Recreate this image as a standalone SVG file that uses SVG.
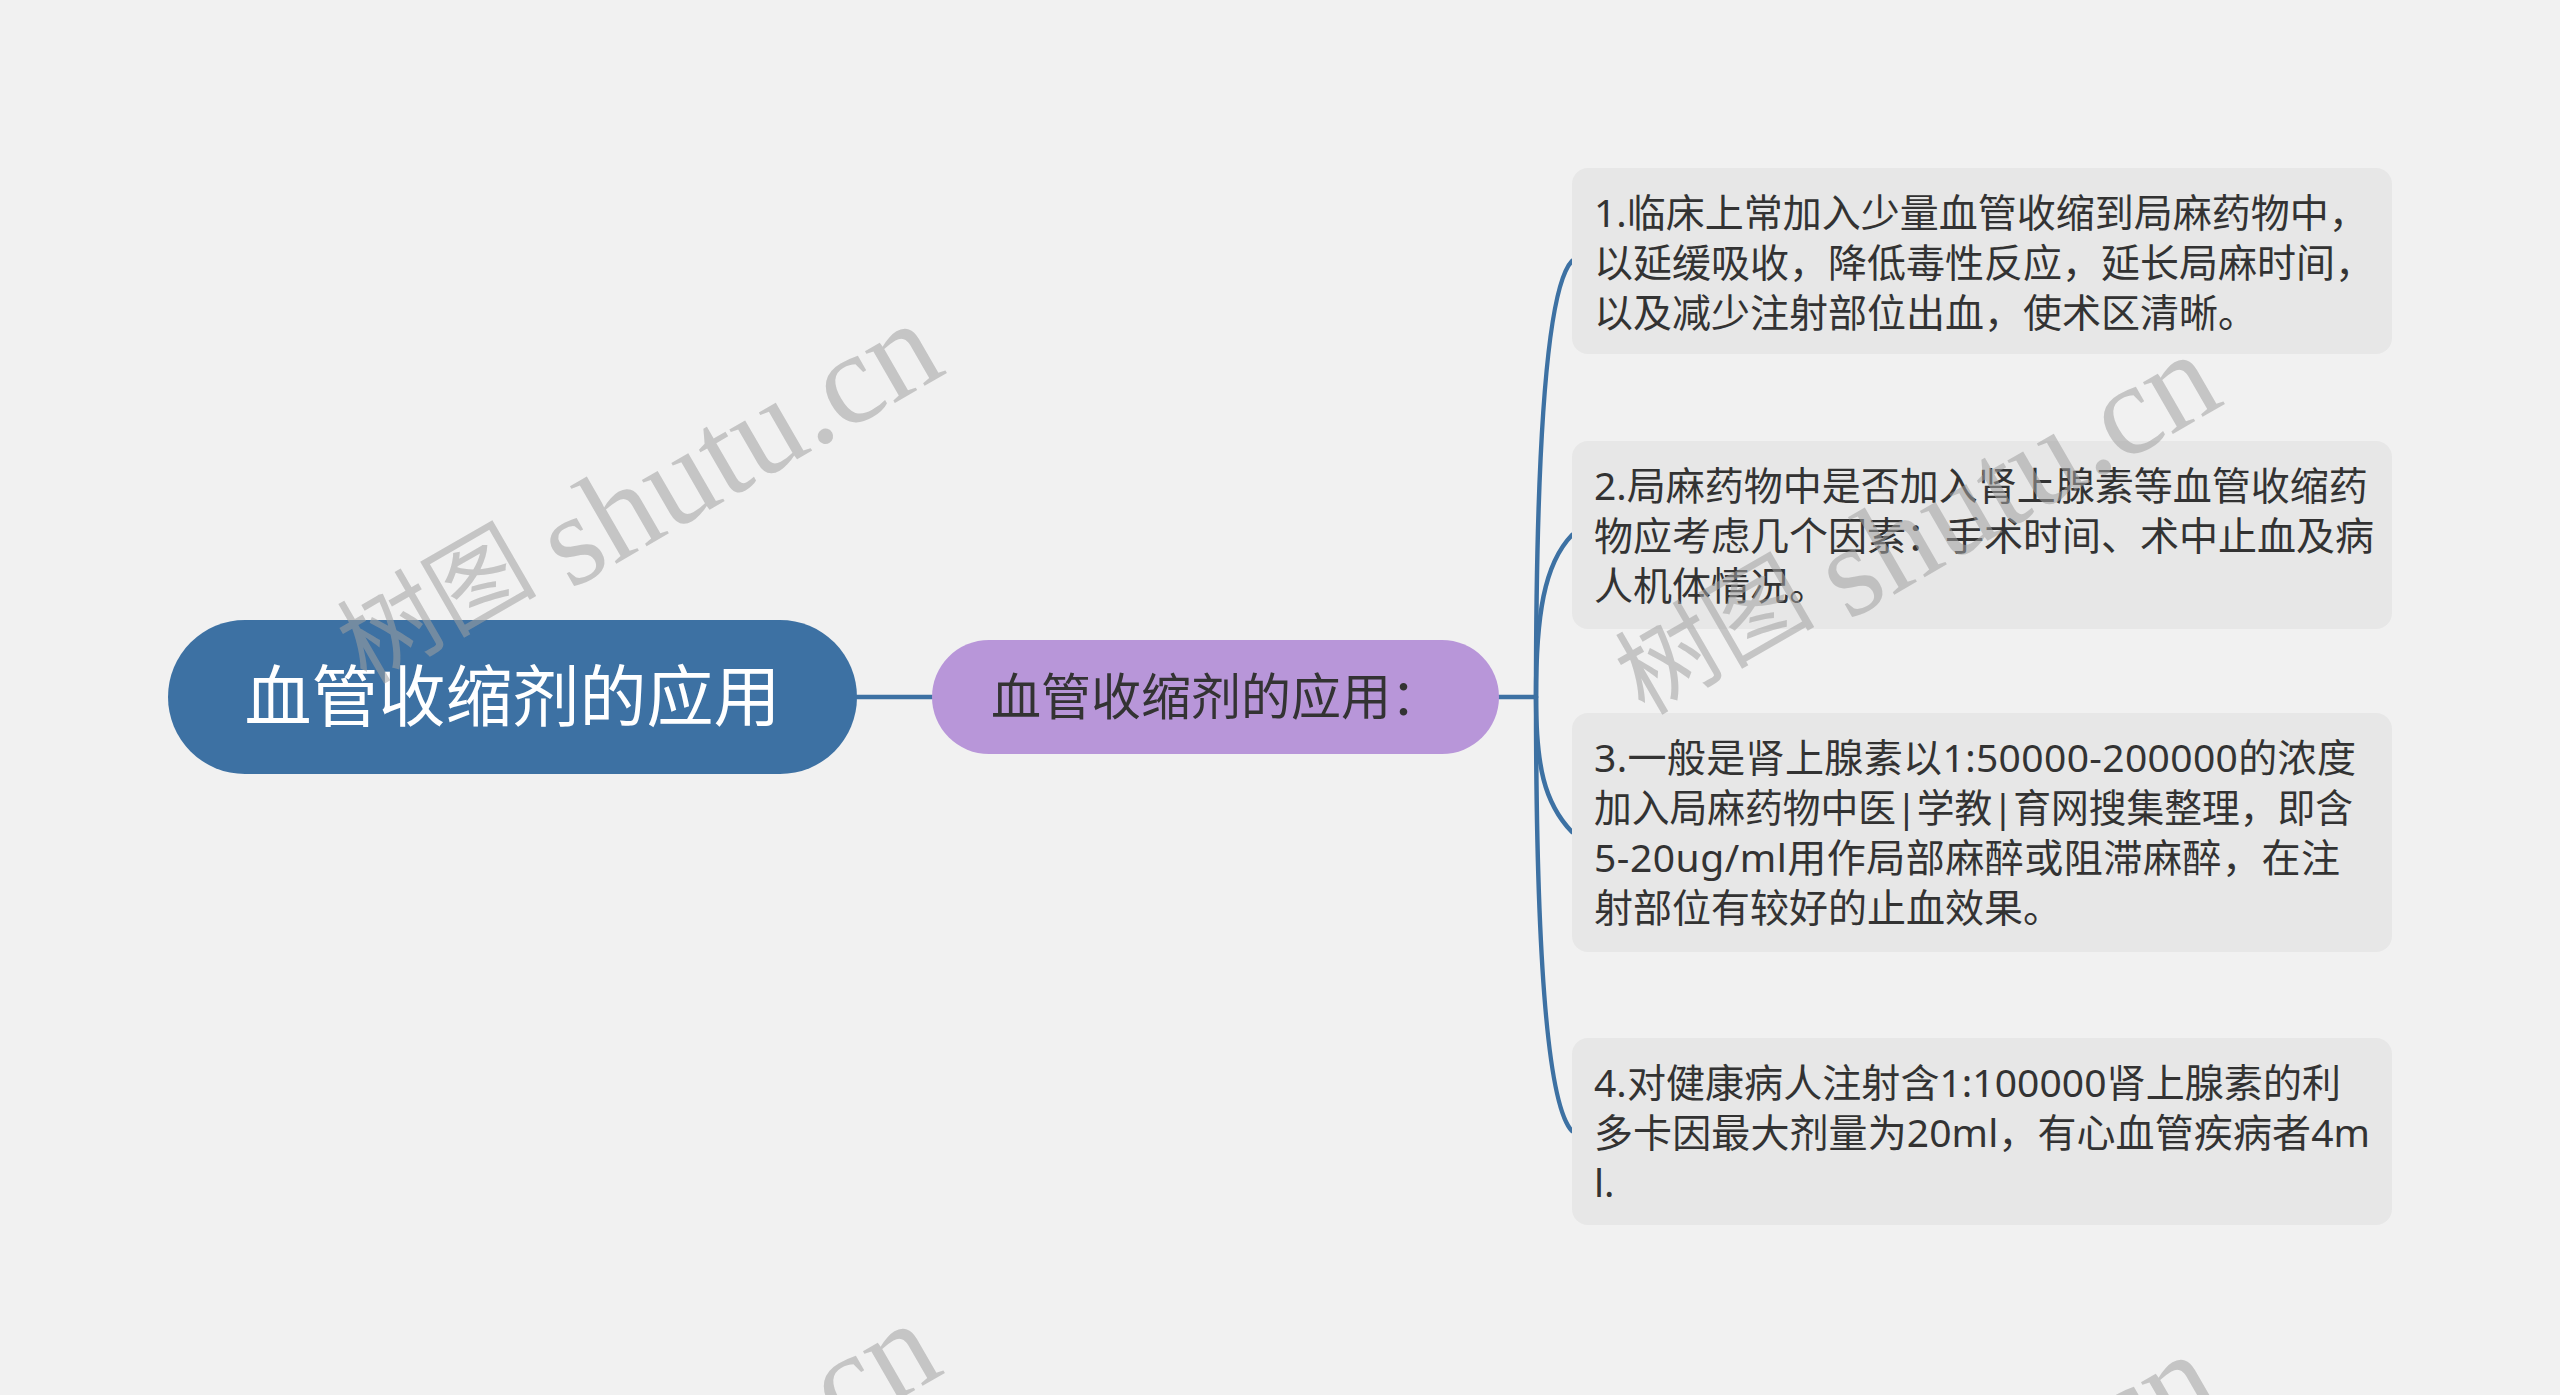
<svg xmlns="http://www.w3.org/2000/svg" width="2560" height="1395" viewBox="0 0 2560 1395">
<style>
.bg{fill:#f1f1f1}
.wm{font-family:"Liberation Serif",serif;fill:#a0a0a0;fill-opacity:0.55}
.wm .cj{font-family:"Noto Sans CJK SC",sans-serif;font-size:100px;font-weight:400}
.wm .la{font-size:130px}
.root rect{fill:#3d71a3}
.root text{font-family:"Noto Sans CJK SC","Noto Sans",sans-serif;font-size:67px;fill:#ffffff}
.sub rect{fill:#b896d9}
.sub text{font-family:"Noto Sans CJK SC","Noto Sans",sans-serif;font-size:50px;fill:#333333}
.leaf rect{fill:#e7e7e7}
.leaf text{font-family:"Noto Sans","Noto Sans CJK SC",sans-serif;font-size:39px;fill:#333333}
.conn path{fill:none;stroke:#3d71a3;stroke-width:4.5;stroke-linecap:round}
</style>
<rect class="bg" x="0" y="0" width="2560" height="1395"/>
<g id="connectors" class="conn">
<path d="M857 697 L932 697"/>
<path d="M1499 697 L1536 697"/>
<path d="M1536 697 C1536 479 1544 290 1572 261"/>
<path d="M1536 697 C1536 616 1544 564 1572 535"/>
<path d="M1536 697 C1536 765 1544 803 1572 832"/>
<path d="M1536 697 C1536 914 1544 1102 1572 1131"/>
</g>
<g id="root" class="root">
<rect x="168" y="620" width="689" height="154" rx="77"/>
<text x="512.5" y="721" text-anchor="middle">血管收缩剂的应用</text>
</g>
<g id="sub" class="sub">
<rect x="932" y="640" width="567" height="114" rx="57"/>
<text x="1216" y="715" text-anchor="middle">血管收缩剂的应用：</text>
</g>
<g id="leaf1" class="leaf">
<rect x="1572" y="168" width="820" height="186" rx="16"/>
<text x="1594" y="227">1.临床上常加入少量血管收缩到局麻药物中，</text>
<text x="1594" y="277">以延缓吸收，降低毒性反应，延长局麻时间，</text>
<text x="1594" y="327">以及减少注射部位出血，使术区清晰。</text>
</g>
<g id="leaf2" class="leaf">
<rect x="1572" y="441" width="820" height="188" rx="16"/>
<text x="1594" y="500">2.局麻药物中是否加入肾上腺素等血管收缩药</text>
<text x="1594" y="550">物应考虑几个因素：手术时间、术中止血及病</text>
<text x="1594" y="600">人机体情况。</text>
</g>
<g id="leaf3" class="leaf">
<rect x="1572" y="713" width="820" height="239" rx="16"/>
<text x="1594" y="772" textLength="762">3.一般是肾上腺素以1:50000-200000的浓度</text>
<text x="1594" y="822" textLength="759" lengthAdjust="spacingAndGlyphs">加入局麻药物中医|学教|育网搜集整理，即含</text>
<text x="1594" y="872" textLength="746">5-20ug/ml用作局部麻醉或阻滞麻醉，在注</text>
<text x="1594" y="922">射部位有较好的止血效果。</text>
</g>
<g id="leaf4" class="leaf">
<rect x="1572" y="1038" width="820" height="187" rx="16"/>
<text x="1594" y="1097" textLength="747">4.对健康病人注射含1:100000肾上腺素的利</text>
<text x="1594" y="1147" textLength="776">多卡因最大剂量为20ml，有心血管疾病者4m</text>
<text x="1594" y="1197">l.</text>
</g>
<g id="watermarks" class="wm">
<text transform="translate(350 669) rotate(-30)"><tspan class="cj" x="6" y="22">树图</tspan><tspan class="la" x="230" y="42">shutu.cn</tspan></text>
<text transform="translate(1628 700) rotate(-30)"><tspan class="cj" x="6" y="22">树图</tspan><tspan class="la" x="230" y="42">shutu.cn</tspan></text>
<text transform="translate(348 1669) rotate(-30)"><tspan class="cj" x="6" y="22">树图</tspan><tspan class="la" x="230" y="42">shutu.cn</tspan></text>
<text transform="translate(1626 1700) rotate(-30)"><tspan class="cj" x="6" y="22">树图</tspan><tspan class="la" x="230" y="42">shutu.cn</tspan></text>
</g>
</svg>
